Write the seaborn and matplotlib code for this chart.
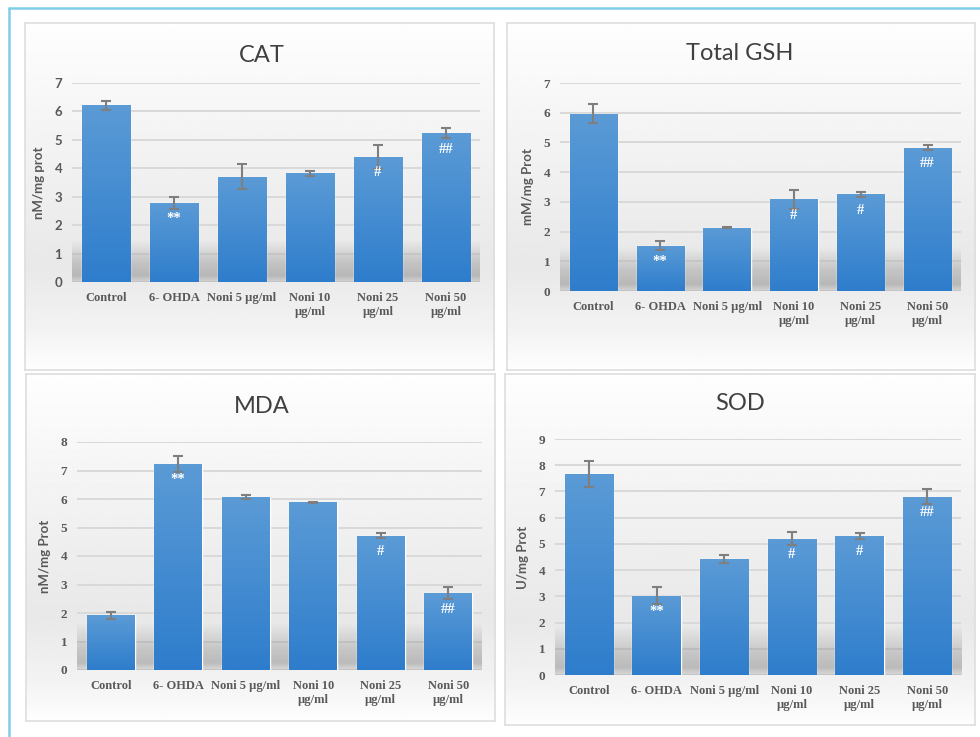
import numpy as np
import pandas as pd
import matplotlib
matplotlib.use("Agg")
import matplotlib.pyplot as plt
import seaborn as sns
from matplotlib.colors import LinearSegmentedColormap
from matplotlib.lines import Line2D

W, H = 980, 737

groups = ["Control", "6- OHDA", "Noni 5 µg/ml", "Noni 10\nµg/ml", "Noni 25\nµg/ml", "Noni 50\nµg/ml"]

cat_mean = [6.22, 2.78, 3.71, 3.82, 4.40, 5.24]
cat_err = [0.16, 0.22, 0.44, 0.09, 0.42, 0.17]
cat_marks = ["", "**", "", "", "#", "##"]

gsh_mean = [5.96, 1.53, 2.13, 3.08, 3.25, 4.82]
gsh_err = [0.32, 0.15, 0.02, 0.33, 0.08, 0.09]
gsh_marks = ["", "**", "", "#", "#", "##"]

mda_mean = [1.92, 7.23, 6.08, 5.89, 4.71, 2.70]
mda_err = [0.12, 0.27, 0.07, 0.02, 0.08, 0.22]
mda_marks = ["", "**", "", "", "#", "##"]

sod_mean = [7.66, 3.03, 4.42, 5.20, 5.31, 6.80]
sod_err = [0.50, 0.32, 0.16, 0.24, 0.11, 0.28]
sod_marks = ["", "**", "", "#", "#", "##"]

TXT = "#595959"
bar_cmap = LinearSegmentedColormap.from_list("bar", ["#2e7dcc", "#5b9bd6"])


def fig_rect(x0, y0, x1, y1):
    # pixel box (top-left origin) -> figure fraction rect
    return [x0 / W, 1 - y1 / H, (x1 - x0) / W, (y1 - y0) / H]


def panel_background(fig, box):
    bg = fig.add_axes(fig_rect(*box), zorder=-1)
    t = np.linspace(0, 1, 300)  # 0 = bottom, 1 = top
    prof = np.interp(t, [0, 0.12, 0.3, 0.55, 1], [0.995, 0.95, 0.91, 0.94, 0.995])
    img = np.repeat(prof[:, None], 2, axis=1)
    bg.imshow(img, cmap="gray", vmin=0, vmax=1, extent=[0, 1, 0, 1],
              aspect="auto", origin="lower", interpolation="bilinear")
    bg.set_xlim(0, 1)
    bg.set_ylim(0, 1)
    bg.set_xticks([])
    bg.set_yticks([])
    for s in bg.spines.values():
        s.set_color("#dedede")
        s.set_linewidth(1.2)


def draw_panel(fig, box, axbox, title, title_xy, ylabel, ylabel_x, means, errs, marks,
               ymax, ytick_font):
    panel_background(fig, box)
    ax = fig.add_axes(fig_rect(*axbox), zorder=1)
    ax.set_facecolor("none")

    df = pd.DataFrame({"group": groups, "value": means})
    sns.barplot(data=df, x="group", y="value", color="#4a8fd3", width=0.71,
                saturation=1, errorbar=None, ax=ax, zorder=1)

    # bar gradient fill
    grad = np.linspace(0, 1, 256)[:, None]
    for p in ax.patches:
        x0, y0, w, h = p.get_x(), p.get_y(), p.get_width(), p.get_height()
        im = ax.imshow(grad, cmap=bar_cmap, extent=[x0, x0 + w, y0, y0 + h],
                       aspect="auto", origin="lower", zorder=1.2)
        im.set_clip_path(p)

    # soft floor shadow behind the bars
    n = 200
    s = np.linspace(0, 1, n)
    alpha = np.interp(s, [0, 0.15, 0.45, 1], [0.18, 0.4, 0.3, 0.0])
    shadow = np.zeros((n, 2, 4))
    shadow[..., :3] = 0.42
    shadow[..., 3] = alpha[:, None]
    ax.imshow(shadow, extent=[-0.5, 5.5, 0, ymax * 0.21], aspect="auto",
              origin="lower", zorder=0.8, interpolation="bilinear")

    ax.errorbar(np.arange(len(groups)), means, yerr=errs, fmt="none",
                ecolor="#7f7f7f", elinewidth=1.5, capsize=3.5, capthick=1.5, zorder=3)

    for i, m in enumerate(marks):
        if m:
            ax.annotate(m, (i, means[i]), xytext=(0, -16), textcoords="offset pixels",
                        ha="center", va="center", color="white", fontsize=10.5,
                        fontweight="bold", family="Liberation Serif", zorder=4)

    ax.set_xlim(-0.5, 5.5)
    ax.set_ylim(0, ymax)
    ax.set_yticks(range(0, ymax + 1))
    ax.grid(axis="y", color="#d9d9d9", linewidth=1.4)
    ax.grid(axis="x", visible=False)
    ax.set_axisbelow(True)
    for s_ in ax.spines.values():
        s_.set_visible(False)
    ax.tick_params(length=0)
    ax.tick_params(axis="y", pad=7)
    ax.tick_params(axis="x", pad=7)
    ax.set_xlabel("")
    ax.set_xticks(range(len(groups)))
    ax.set_xticklabels(groups, family="Liberation Serif", fontweight="bold",
                       fontsize=9, color=TXT, linespacing=1.25)
    for lab in ax.get_yticklabels():
        lab.set_family(ytick_font)
        lab.set_fontweight("bold")
        lab.set_fontsize(9.5)
        lab.set_color(TXT)

    ax.set_ylabel(ylabel, family="Lato", fontweight="bold", fontsize=9.5, color=TXT)
    ax.yaxis.set_label_coords((ylabel_x - axbox[0]) / (axbox[2] - axbox[0]), 0.5)

    fig.text(title_xy[0] / W, 1 - title_xy[1] / H, title, ha="center", va="center",
             family="Lato", fontsize=17, color="#404040")
    return ax


sns.set_theme(style="white")
plt.rcParams["font.family"] = ["Lato", "DejaVu Sans"]

fig = plt.figure(figsize=(W / 100, H / 100), dpi=100)
fig.patch.set_facecolor("white")

draw_panel(fig, (25, 23, 494, 370), (72, 83, 480, 282), "CAT", (262, 55),
           "nM/mg prot", 45, cat_mean, cat_err, cat_marks, 7, "Lato")
draw_panel(fig, (507, 23, 975, 370), (560, 83, 961, 291), "Total GSH", (740, 53),
           "mM/mg Prot", 534, gsh_mean, gsh_err, gsh_marks, 7, "Liberation Serif")
draw_panel(fig, (26, 374, 495, 721), (77, 442, 482, 670), "MDA", (262, 406),
           "nM/mg Prot", 51, mda_mean, mda_err, mda_marks, 8, "Liberation Serif")
draw_panel(fig, (505, 374, 975, 725), (555, 439, 961, 675), "SOD", (740, 404),
           "U/mg Prot", 529, sod_mean, sod_err, sod_marks, 9, "Liberation Serif")

# light blue outer frame (left and top edges)
frame = "#7fcde8"
fig.add_artist(Line2D([9 / W, 9 / W], [0, 1 - 8 / H], color=frame, lw=1.8))
fig.add_artist(Line2D([9 / W, 1], [1 - 8 / H, 1 - 8 / H], color=frame, lw=1.8))

fig.savefig("out.png", dpi=100)
